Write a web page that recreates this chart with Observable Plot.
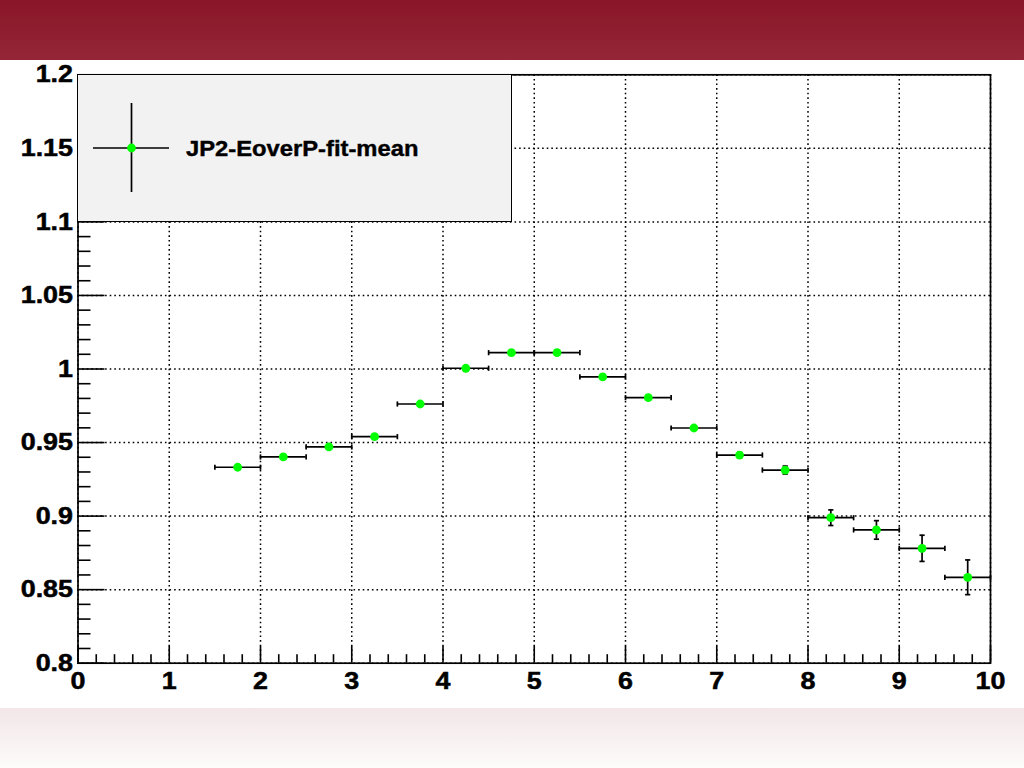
<!DOCTYPE html>
<html>
<head>
<meta charset="utf-8">
<script src="https://cdn.jsdelivr.net/npm/d3@7"></script>
<script src="https://cdn.jsdelivr.net/npm/@observablehq/plot@0.6"></script>
<style>
  html, body { margin: 0; padding: 0; background: #ffffff; }
  #page { position: relative; width: 1024px; height: 768px; overflow: hidden; background: #ffffff; }
  #banner { position: absolute; left: 0; top: 0; width: 1024px; height: 60px;
    background: linear-gradient(to bottom, #891628, #942637); }
  #footer { position: absolute; left: 0; top: 708px; width: 1024px; height: 60px;
    background: linear-gradient(to bottom, #f2e6e8, #fdfbfb); }
  #chart { position: absolute; left: 0; top: 60px; }
  #legend { position: absolute; left: 77px; top: 74px; width: 433px; height: 146px;
    background: #f2f2f2; border: 1.5px solid #000; }
  #legend svg { position: absolute; left: 0; top: 0; }
  #legend span { position: absolute; left: 108px; top: 61px;
    font-family: "Liberation Sans", Arial, Helvetica, sans-serif; font-weight: bold; font-size: 22px; color: #000; white-space: nowrap;
    -webkit-text-stroke: 0.4px #000;
    transform: scaleX(1.08); transform-origin: left center; }
</style>
</head>
<body>
<div id="page">
  <div id="banner"></div>
  <div id="footer"></div>
  <div id="chart"></div>
  <div id="legend"></div>
</div>
<script>
// ---- data ----
const seriesName = "JP2-EoverP-fit-mean";
const binCenters = [1.75, 2.25, 2.75, 3.25, 3.75, 4.25, 4.75, 5.25, 5.75, 6.25, 6.75, 7.25, 7.75, 8.25, 8.75, 9.25, 9.75];
const binHalfWidths = [0.25, 0.25, 0.25, 0.25, 0.25, 0.25, 0.25, 0.25, 0.25, 0.25, 0.25, 0.25, 0.25, 0.25, 0.25, 0.25, 0.25];
const meanValues = [0.9332, 0.9402, 0.9470, 0.9540, 0.9762, 1.0005, 1.0111, 1.0111, 0.9946, 0.9805, 0.9599, 0.9415, 0.9313, 0.8989, 0.8906, 0.8781, 0.8584];
const meanErrors = [0.0008, 0.0008, 0.0008, 0.0008, 0.0008, 0.0009, 0.0009, 0.0009, 0.0010, 0.0011, 0.0014, 0.0018, 0.0027, 0.0053, 0.0063, 0.0089, 0.0118];
const xTicks = [0, 1, 2, 3, 4, 5, 6, 7, 8, 9, 10];
const yTicks = [0.8, 0.85, 0.9, 0.95, 1, 1.05, 1.1, 1.15, 1.2];

const rows = binCenters.map((x, i) => ({x, dx: binHalfWidths[i], y: meanValues[i], e: meanErrors[i]}));

// minor tick positions (axis decoration)
const xMinor = d3.range(0, 10.0001, 0.2).map(v => +v.toFixed(2)).filter(v => !xTicks.includes(v));
const yMinor = d3.range(0.8, 1.2001, 0.01).map(v => +v.toFixed(2)).filter(v => !yTicks.some(t => Math.abs(t - v) < 1e-6));

const W = 1024, H = 648;
const mT = 14.3, mB = 45.3, mL = 77.5, mR = 34;
const innerW = W - mL - mR, innerH = H - mT - mB;

const vbar = {draw(ctx, size) { const h = Math.sqrt(size / Math.PI); ctx.moveTo(0, -h); ctx.lineTo(0, h); }};
const hbar = {draw(ctx, size) { const h = Math.sqrt(size / Math.PI); ctx.moveTo(-h, 0); ctx.lineTo(h, 0); }};

const fmt = d => String(+d.toFixed(2));
const font = '"Liberation Sans", Arial, Helvetica, sans-serif';

const chart = Plot.plot({
  width: W, height: H,
  marginTop: mT, marginBottom: mB, marginLeft: mL, marginRight: mR,
  style: {background: "transparent", fontFamily: font, color: "#000", overflow: "visible"},
  x: {domain: [0, 10]},
  y: {domain: [0.8, 1.2]},
  marks: [
    Plot.gridX(xTicks, {stroke: "#000", strokeOpacity: 1, strokeWidth: 1.5, strokeDasharray: "1.6,3"}),
    Plot.gridY(yTicks, {stroke: "#000", strokeOpacity: 1, strokeWidth: 1.5, strokeDasharray: "1.6,3"}),
    Plot.ruleX(xTicks, {x: d => d, insetTop: innerH - 17, stroke: "#000", strokeWidth: 1.6}),
    Plot.ruleX(xMinor, {x: d => d, insetTop: innerH - 8.5, stroke: "#000", strokeWidth: 1.6}),
    Plot.ruleY(yTicks, {y: d => d, insetRight: innerW - 27, stroke: "#000", strokeWidth: 1.6}),
    Plot.ruleY(yMinor, {y: d => d, insetRight: innerW - 13, stroke: "#000", strokeWidth: 1.6}),
    Plot.frame({stroke: "#000", strokeWidth: 1.7}),
    Plot.axisX(xTicks, {tickSize: 0, tickPadding: 9, tickFormat: fmt, fontSize: 24, fontWeight: "bold", label: null}),
    Plot.axisY(yTicks, {tickSize: 0, tickPadding: 5, tickFormat: fmt, fontSize: 24, fontWeight: "bold", label: null}),
    // horizontal (bin width) error bars
    Plot.ruleY(rows, {y: "y", x1: d => d.x - d.dx, x2: d => d.x + d.dx, stroke: "#000", strokeWidth: 1.7}),
    Plot.dot(rows, {x: d => d.x - d.dx, y: "y", symbol: vbar, r: 2.6, fill: "none", stroke: "#000", strokeWidth: 1.7}),
    Plot.dot(rows, {x: d => d.x + d.dx, y: "y", symbol: vbar, r: 2.6, fill: "none", stroke: "#000", strokeWidth: 1.7}),
    // vertical error bars
    Plot.ruleX(rows, {x: "x", y1: d => d.y - d.e, y2: d => d.y + d.e, stroke: "#000", strokeWidth: 1.7}),
    Plot.dot(rows, {x: "x", y: d => d.y - d.e, symbol: hbar, r: 2.6, fill: "none", stroke: "#000", strokeWidth: 1.7}),
    Plot.dot(rows, {x: "x", y: d => d.y + d.e, symbol: hbar, r: 2.6, fill: "none", stroke: "#000", strokeWidth: 1.7}),
    // markers
    Plot.dot(rows, {x: "x", y: "y", r: 4.4, fill: "#00ff00", stroke: "none"})
  ]
});
// widen and embolden the tick labels slightly, like the reference's Helvetica rendering
chart.querySelectorAll('g[aria-label="x-axis tick label"] text, g[aria-label="y-axis tick label"] text').forEach(t => {
  const tr = t.getAttribute("transform") || "";
  t.setAttribute("transform", tr + " scale(1.12,1)");
  t.setAttribute("stroke", "#000");
  t.setAttribute("stroke-width", "0.5");
});
document.getElementById("chart").appendChild(chart);

// legend box (entry for the single series)
const leg = document.getElementById("legend");
const ns = "http://www.w3.org/2000/svg";
const ls = document.createElementNS(ns, "svg");
ls.setAttribute("width", 433); ls.setAttribute("height", 146);
ls.innerHTML = '<line x1="15" y1="73" x2="91" y2="73" stroke="#000" stroke-width="1.7"/>' +
  '<line x1="53.5" y1="28" x2="53.5" y2="117" stroke="#000" stroke-width="1.7"/>' +
  '<circle cx="53.5" cy="73" r="4.4" fill="#00ff00"/>';
leg.appendChild(ls);
const lt = document.createElement("span");
lt.textContent = seriesName;
leg.appendChild(lt);
</script>
</body>
</html>
